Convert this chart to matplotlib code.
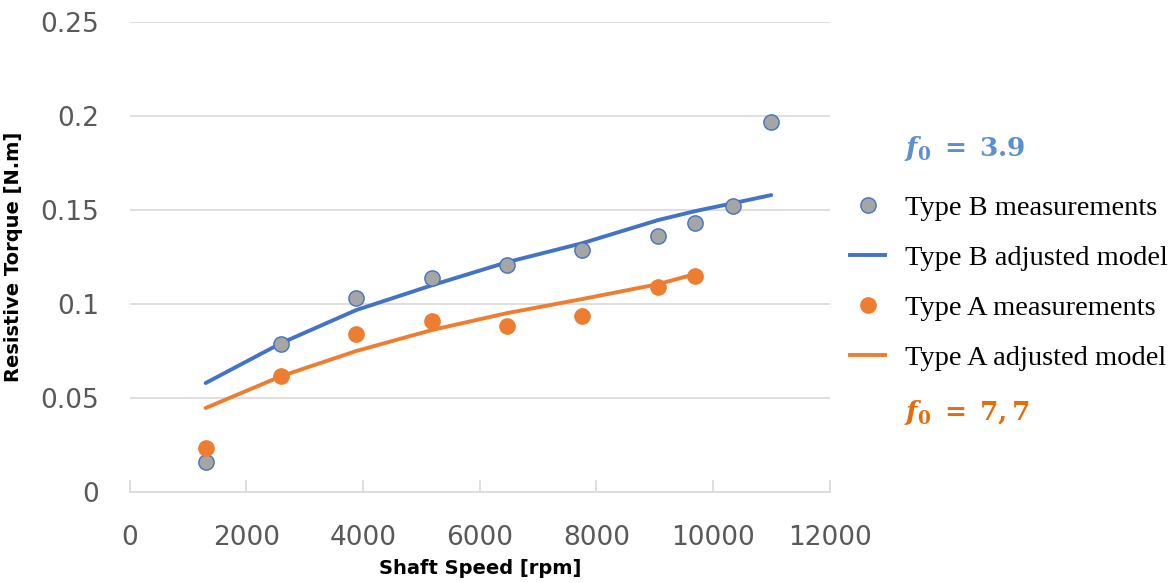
import numpy as np
import matplotlib.pyplot as plt
from matplotlib.lines import Line2D

# Type B measurements
b_speed = [1300, 2600, 3880, 5180, 6470, 7760, 9060, 9700, 10350, 11000]
b_torque = [0.016, 0.079, 0.103, 0.114, 0.121, 0.129, 0.136, 0.143, 0.152, 0.197]

# Type B adjusted model
b_model = [0.058, 0.0793, 0.0968, 0.110, 0.1223, 0.1324, 0.1447, 0.1495, 0.1537, 0.158]

# Type A measurements
a_speed = [1300, 2600, 3880, 5180, 6470, 7760, 9060, 9700]
a_torque = [0.0234, 0.0617, 0.084, 0.091, 0.0883, 0.0936, 0.109, 0.115]

# Type A adjusted model
a_model = [0.0447, 0.0617, 0.075, 0.0862, 0.0952, 0.1027, 0.1106, 0.116]

blue = '#4472C4'
orange = '#ED7D31'
gray = '#A5A5A5'

fig = plt.figure(figsize=(11.7, 5.83), dpi=100)
ax = fig.add_axes([0.111, 0.156, 0.598, 0.806])

ax.plot(b_speed, b_model, color=blue, lw=2.8, solid_capstyle='round', zorder=3)
ax.plot(a_speed, a_model, color=orange, lw=2.8, solid_capstyle='round', zorder=3)
ax.plot(b_speed, b_torque, 'o', ms=11, mfc=gray, mec=blue, mew=1.0, zorder=4)
ax.plot(a_speed, a_torque, 'o', ms=11, mfc=orange, mec=orange, mew=1.0, zorder=4)

ax.set_xlim(0, 12000)
ax.set_ylim(0, 0.25)
ax.set_xticks(np.arange(0, 12001, 2000))
ax.set_yticks([0, 0.05, 0.1, 0.15, 0.2, 0.25])
ax.set_yticklabels(['0', '0.05', '0.1', '0.15', '0.2', '0.25'])
ax.grid(axis='y', color='#D9D9D9', lw=1.2)
ax.set_axisbelow(True)
for s in ['top', 'right', 'left']:
    ax.spines[s].set_visible(False)
ax.spines['bottom'].set_color('#D9D9D9')
ax.spines['bottom'].set_linewidth(1.2)
ax.tick_params(axis='x', direction='in', length=9, color='#D9D9D9', width=1.2,
               labelsize=19, labelcolor='#595959', pad=24)
ax.tick_params(axis='y', length=0, labelsize=19, labelcolor='#595959', pad=22)

ax.set_xlabel('Shaft Speed [rpm]', fontsize=14, fontweight='bold')
ax.set_ylabel('Resistive Torque [N.m]', fontsize=14, fontweight='bold')
ax.yaxis.set_label_coords(-0.153, 0.5)
ax.xaxis.set_label_coords(0.5, -0.142)

handles = [
    Line2D([], [], ls='none', marker='o', ms=11, mfc=gray, mec=blue),
    Line2D([], [], color=blue, lw=2.8),
    Line2D([], [], ls='none', marker='o', ms=11, mfc=orange, mec=orange),
    Line2D([], [], color=orange, lw=2.8),
]
labels = ['Type B measurements', 'Type B adjusted model',
          'Type A measurements', 'Type A adjusted model']
fig.legend(handles, labels, loc='upper left', bbox_to_anchor=(0.7265, 0.665),
           frameon=False, prop={'family': 'Liberation Serif', 'size': 20.5},
           labelspacing=0.84, handlelength=1.24, handletextpad=0.7,
           borderpad=0, borderaxespad=0)

plt.rcParams['mathtext.fontset'] = 'dejavuserif'
fig.text(0.773, 0.745, r'$\mathbfit{f}_\mathbf{0}\mathbf{\ =\ 3.9}$',
         color='#5B8FD0', fontsize=19, va='center')
fig.text(0.773, 0.292, r'$\mathbfit{f}_\mathbf{0}\mathbf{\ =\ 7,7}$',
         color='#E46C0A', fontsize=19, va='center')

fig.savefig('out.png', dpi=100)
